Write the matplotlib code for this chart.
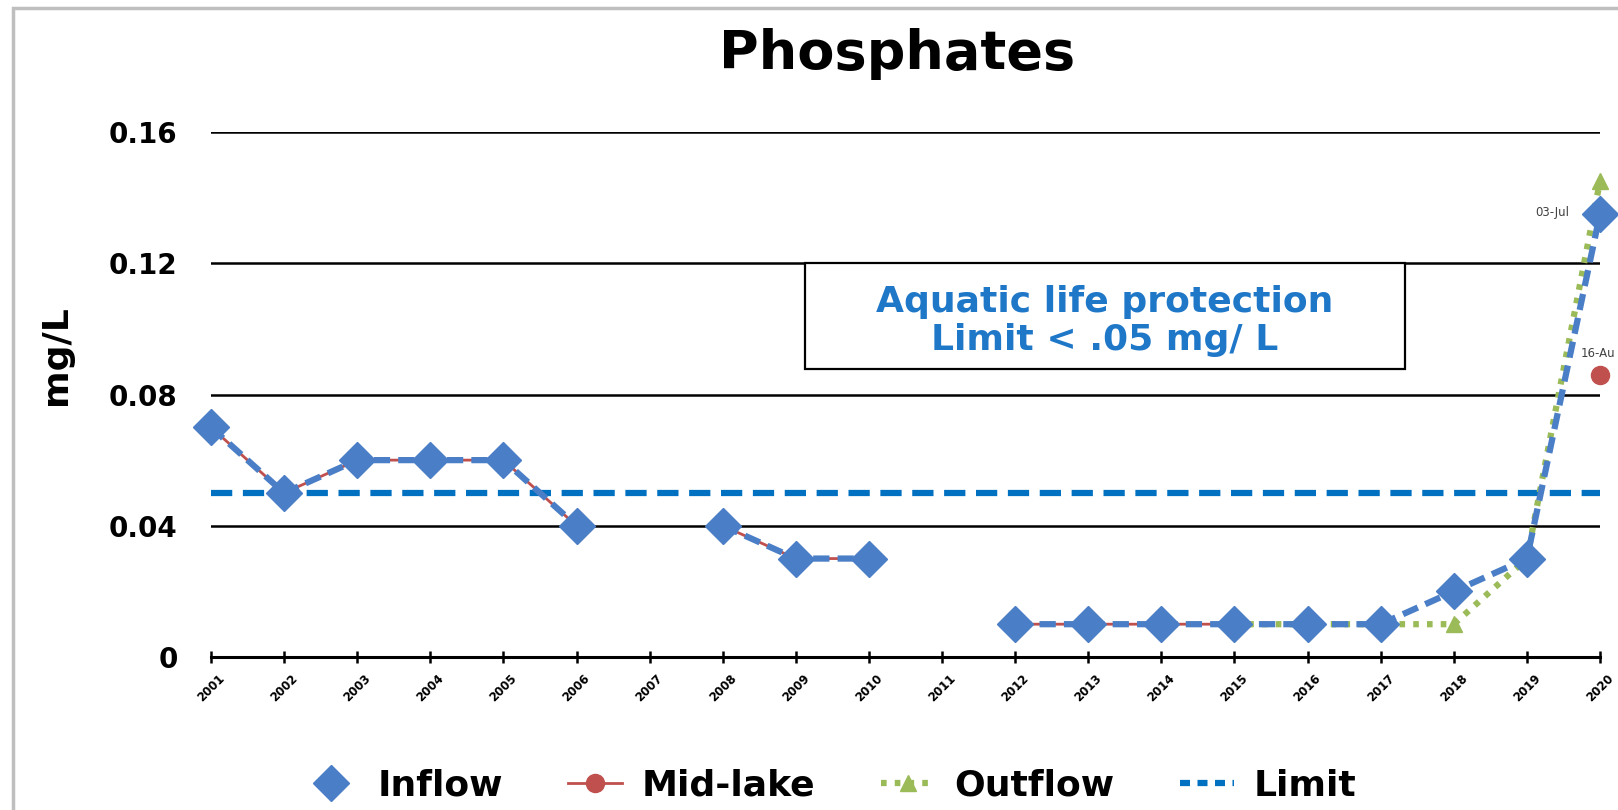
import numpy as np
import matplotlib
matplotlib.use("Agg")
import matplotlib.pyplot as plt
from matplotlib.lines import Line2D
from matplotlib.patches import Rectangle

plt.rcParams['font.family'] = ['DejaVu Sans']

years = [str(y) for y in range(2001, 2021)]
nan = np.nan
inflow = [0.07, 0.05, 0.06, 0.06, 0.06, 0.04, nan, 0.04, 0.03, 0.03, nan,
          0.01, 0.01, 0.01, 0.01, 0.01, 0.01, 0.02, 0.03, 0.135]
midlake = [0.07, 0.05, 0.06, 0.06, 0.06, 0.04, nan, 0.04, 0.03, 0.03, nan,
           0.01, 0.01, 0.01, 0.01, nan, nan, nan, nan, 0.086]
outflow = [nan, nan, nan, nan, nan, nan, nan, nan, nan, nan, nan,
           nan, nan, nan, 0.01, 0.01, 0.01, 0.01, 0.03, 0.145]
limit = 0.05
yticks = [0, 0.04, 0.08, 0.12, 0.16]
ytick_labels = ['0', '0.04', '0.08', '0.12', '0.16']

BLUE = '#4A7EC6'
RED = '#C0504D'
GREEN = '#9BBB59'
LIMIT = '#0070C0'

fig = plt.figure(figsize=(16.18, 8.10), dpi=100)
# outer chart border (cut off at right/bottom)
fig.patches.append(Rectangle((13/1618, -0.1), 1.2, 1 - 8/810 + 0.1, transform=fig.transFigure,
                             fill=False, edgecolor='#BFBFBF', linewidth=2.5))

ax = fig.add_axes([211/1618, 1 - 657/810, (1600 - 211)/1618, (657 - 132)/810])
x = np.arange(len(years))

for yv in yticks[1:]:
    ax.axhline(yv, color='black', linewidth=1.8, zorder=1)

ax.plot(x, [limit]*len(x), color=LIMIT, linewidth=4.5, dashes=(3.4, 1.7), zorder=2, clip_on=False)

# mid-lake line
ax.plot(x, midlake, color=RED, linewidth=2.0, zorder=3, clip_on=False)
# outflow line
ax.plot(x, outflow, color=GREEN, linewidth=4.5, linestyle=(0, (0.9, 1.3)), zorder=4, clip_on=False)
ax.plot(x, outflow, linestyle='none', marker='^', markersize=12, color=GREEN, zorder=4, clip_on=False)
# inflow line
ax.plot(x, inflow, color=BLUE, linewidth=4.5, dashes=(2.6, 1.3), zorder=5, clip_on=False)
ax.plot(x, inflow, linestyle='none', marker='D', markersize=18, color=BLUE, zorder=6, clip_on=False)
# mid-lake 2020 point
ax.plot([x[-1]], [midlake[-1]], linestyle='none', marker='o', markersize=13, color=RED, zorder=6, clip_on=False)

ax.annotate('03-Jul', (x[-1], inflow[-1]), xytext=(-22, 1), textcoords='offset points',
            ha='right', va='center', fontsize=8.5, color='#404040', annotation_clip=False)
ax.annotate('16-Au', (x[-1], midlake[-1]), xytext=(-14, 15), textcoords='offset points',
            ha='left', va='center', fontsize=8.5, color='#404040', annotation_clip=False)

ax.set_xlim(0, len(years) - 1)
ax.set_ylim(0, 0.16)
ax.set_xticks(x)
ax.set_xticklabels(years, rotation=45, ha='center', fontsize=8.5, fontweight='bold')
ax.set_yticks(yticks)
ax.set_yticklabels(ytick_labels, fontsize=20, fontweight='bold')
ax.tick_params(axis='y', length=0, pad=24)
ax.tick_params(axis='x', direction='inout', length=9, width=1.8, color='black', pad=6)
for s in ['top', 'right', 'left']:
    ax.spines[s].set_visible(False)
ax.spines['bottom'].set_linewidth(2.2)
ax.spines['bottom'].set_zorder(7)
ax.set_ylabel('mg/L', fontsize=26, fontweight='bold', labelpad=24)
ax.yaxis.set_label_coords(-0.099, (657 - 355) / 525)
ax.patch.set_alpha(0)

# text box
bx0 = (805 - 211) / (1600 - 211)
bx1 = (1405 - 211) / (1600 - 211)
by1 = 0.12 / 0.16
by0 = 0.0877 / 0.16
ax.add_patch(Rectangle((bx0, by0), bx1 - bx0, by1 - by0, transform=ax.transAxes,
                       facecolor='white', edgecolor='black', linewidth=1.6, zorder=8))
bxc = (bx0 + bx1) / 2
ax.text(bxc, (657 - 302) / 525, 'Aquatic life protection', transform=ax.transAxes,
        ha='center', va='center', fontsize=26, fontweight='bold', color='#1F77C8', zorder=9)
ax.text(bxc, (657 - 340) / 525, 'Limit < .05 mg/ L', transform=ax.transAxes,
        ha='center', va='center', fontsize=26, fontweight='bold', color='#1F77C8', zorder=9)

fig.text(897 / 1618, 1 - 69 / 810, 'Phosphates', ha='center', va='baseline',
         fontsize=39, fontweight='bold')

handles = [
    Line2D([], [], color=BLUE, linestyle='none', marker='D', markersize=18),
    Line2D([], [], color=RED, linewidth=2.0, marker='o', markersize=13),
    Line2D([], [], color=GREEN, linewidth=4.5, linestyle=(0, (0.9, 1.3)), marker='^', markersize=12),
    Line2D([], [], color=LIMIT, linewidth=4.5, dashes=(1.6, 1.2)),
]
fig.legend(handles, ['Inflow', 'Mid-lake', 'Outflow', 'Limit'], loc='center',
           bbox_to_anchor=(830 / 1618, 1 - 786 / 810), ncol=4, frameon=False,
           prop={'size': 26, 'weight': 'bold'}, handlelength=1.5, columnspacing=1.8,
           handletextpad=0.55)

fig.savefig('out.png', dpi=100)
